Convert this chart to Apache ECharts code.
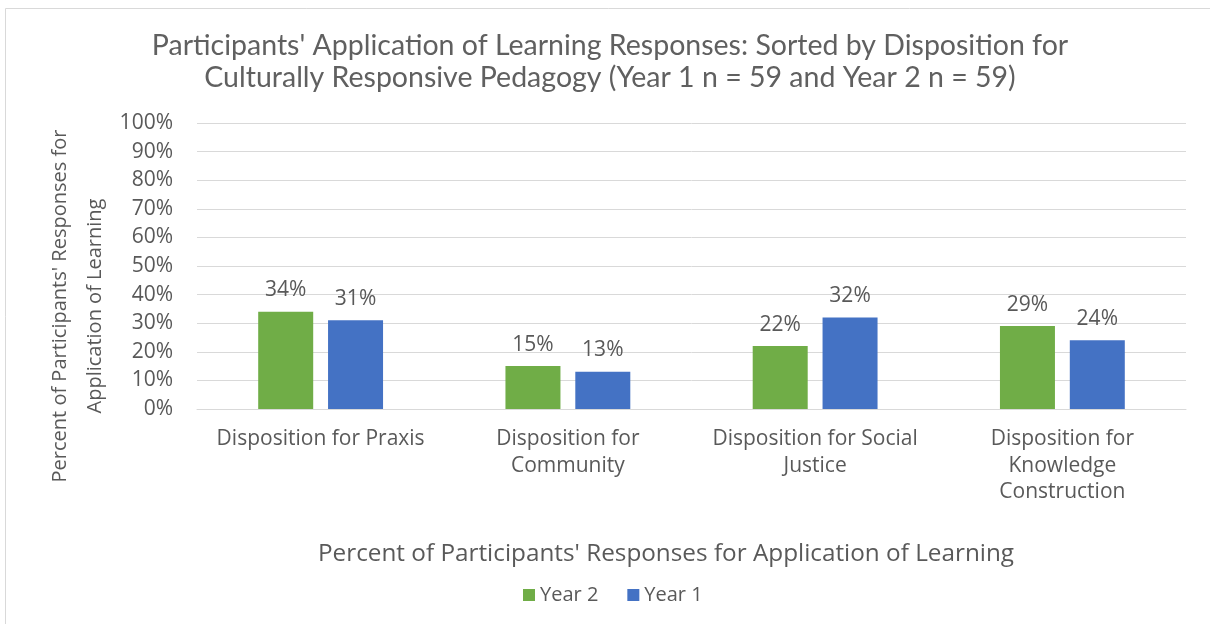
<!DOCTYPE html>
<html><head><meta charset="utf-8">
<script src="https://cdn.jsdelivr.net/npm/echarts@6/dist/echarts.min.js"></script>
<style>html,body{margin:0;padding:0;background:#fff}#c{width:1210px;height:624px}</style>
</head><body><div id="c"></div>
<script>
var categories = ["Disposition for Praxis", "Disposition for\nCommunity", "Disposition for Social\nJustice", "Disposition for\nKnowledge\nConstruction"];
var year2 = [34, 15, 22, 29];
var year1 = [31, 13, 32, 24];
var yTicks = [0, 10, 20, 30, 40, 50, 60, 70, 80, 90, 100];
var titleText = "Participants' Application of Learning Responses: Sorted by Disposition for\nCulturally Responsive Pedagogy (Year 1 n = 59 and Year 2 n = 59)";
var yName = "Percent of Participants' Responses for\nApplication of Learning";
var xName = "Percent of Participants' Responses for Application of Learning";

var FONT = "'Open Sans', 'Noto Sans', sans-serif";
var TFONT = "Lato, 'Open Sans', sans-serif";
var TXT = '#595959';
var chart = echarts.init(document.getElementById('c'));
chart.setOption({
  animation: false,
  textStyle: {fontFamily: FONT, color: TXT},
  title: {
    text: titleText, left: 605, top: 25, textAlign: 'center',
    textStyle: {fontFamily: TFONT, fontSize: 28.5, fontWeight: 'normal', color: '#606060', lineHeight: 32}
  },
  grid: {left: 197, right: 24, top: 123, bottom: 215, containLabel: false},
  legend: {
    data: ['Year 2', 'Year 1'], left: 518, top: 580, itemWidth: 12, itemHeight: 12,
    itemGap: 29, icon: 'rect',
    textStyle: {fontFamily: FONT, fontSize: 20, color: TXT}
  },
  xAxis: {
    type: 'category', data: categories,
    axisLine: {lineStyle: {color: '#d9d9d9'}}, axisTick: {show: false},
    axisLabel: {fontFamily: FONT, fontSize: 21, color: TXT, lineHeight: 26.5, margin: 17, interval: 0}
  },
  yAxis: {
    type: 'value', min: 0, max: 100, interval: 10,
    axisLabel: {fontFamily: FONT, fontSize: 21, color: TXT, margin: 24, formatter: function (v) { return yTicks.indexOf(v) >= 0 ? v + '%' : ''; }},
    splitLine: {lineStyle: {color: '#d9d9d9'}}, axisLine: {show: false}, axisTick: {show: false}
  },
  graphic: [
    {type: 'rect', shape: {x: 5.5, y: 8.5, width: 1300, height: 700}, style: {fill: 'none', stroke: '#d9d9d9', lineWidth: 1}, silent: true},
    {type: 'text', x: 78, y: 306, rotation: Math.PI / 2, style: {text: yName, fontFamily: FONT, fontSize: 20, fill: TXT, align: 'center', verticalAlign: 'middle', lineHeight: 35}},
    {type: 'text', x: 666, y: 554, style: {text: xName, fontFamily: FONT, fontSize: 24.3, fill: TXT, align: 'center', verticalAlign: 'middle'}}
  ],
  series: [
    {name: 'Year 2', type: 'bar', data: year2, barWidth: 55, barGap: '27%', itemStyle: {color: '#70AD47'},
     label: {show: true, position: 'top', distance: 11, formatter: '{c}%', fontFamily: FONT, fontSize: 21, color: TXT}},
    {name: 'Year 1', type: 'bar', data: year1, barWidth: 55, itemStyle: {color: '#4472C4'},
     label: {show: true, position: 'top', distance: 11, formatter: '{c}%', fontFamily: FONT, fontSize: 21, color: TXT}}
  ]
});
</script></body></html>
